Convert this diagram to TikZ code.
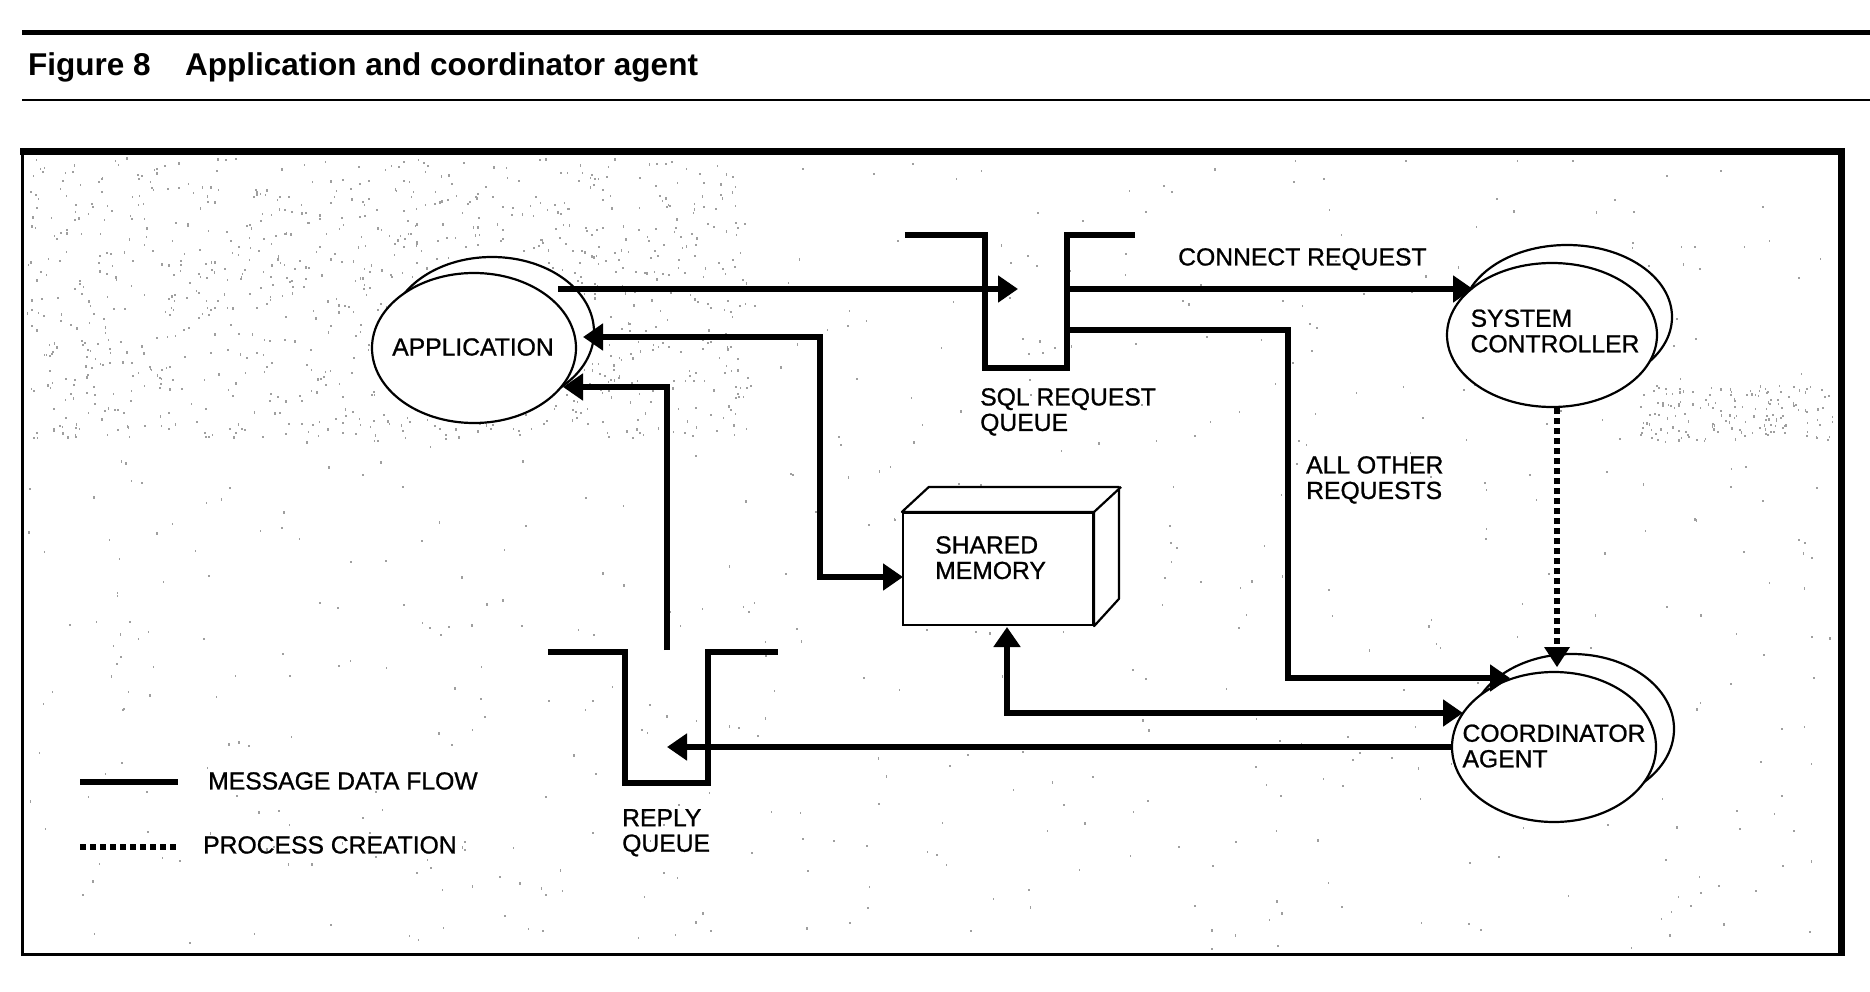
\documentclass[tikz,border=0pt]{standalone}
\usepackage{fontspec}
\setmainfont{Liberation Sans}
\newfontfamily\lblfont{Liberation Sans}[FakeBold=0.9]
\usetikzlibrary{arrows.meta,shapes.geometric}
\begin{document}
\begin{tikzpicture}[x=1pt,y=-1pt,
  lbl/.style={font=\lblfont\fontsize{24.7}{25.5}\selectfont, inner sep=0pt, align=left},
  ttl/.style={font=\fontsize{31.5}{31.5}\selectfont\bfseries, inner sep=0pt, anchor=base west},
  ell/.style={ellipse, draw, fill=white, line width=2.2pt, inner sep=0pt},
  flow/.style={line width=6pt, -{Triangle[length=20pt,width=26pt]}},
  flowboth/.style={line width=6pt, {Triangle[length=20pt,width=26pt]}-{Triangle[length=20pt,width=26pt]}},
  queue/.style={line width=6pt, line join=miter},
  proc/.style={line width=6pt, dash pattern=on 6pt off 4pt},
  stip/.style={fill=gray!75},
]
\useasboundingbox (0,0) rectangle (1870,992);
\fill[white] (0,0) rectangle (1870,992);

% title
\draw[line width=5pt] (22,33) -- (1870,33);
\node[ttl] (fig) at (28,76) {Figure 8};
\node[ttl] (cap) at (185,76) {Application and coordinator agent};
\draw[line width=2pt] (22,100) -- (1870,100);

% stipple texture
\pgfmathsetseed{42}
\foreach \i in {1,...,1000}{\pgfmathsetmacro{\px}{26+rnd*720}\pgfmathsetmacro{\py}{157+rnd*280}\fill[stip] (\px,\py) rectangle ++(1.6,2.2);}
\foreach \i in {1,...,650}{\pgfmathsetmacro{\px}{26+rnd*1805}\pgfmathsetmacro{\py}{157+rnd*792}\fill[stip] (\px,\py) rectangle ++(1.6,2.2);}
\foreach \i in {1,...,160}{\pgfmathsetmacro{\px}{1640+rnd*195}\pgfmathsetmacro{\py}{385+rnd*55}\fill[stip] (\px,\py) rectangle ++(1.6,2.2);}

% frame
\draw[line width=3pt] (22,152) rectangle (1841,954);
\draw[line width=7pt, line join=miter] (20,152) -- (1841,152) -- (1841,956);

% ellipses
\node[ell, minimum width=204pt, minimum height=150pt] (appb) at (492,332) {};
\node[ell, minimum width=204pt, minimum height=150pt] (app) at (474,348) {};
\node[lbl] (applbl) at (473,347) {APPLICATION};

\node[ell, minimum width=210pt, minimum height=144pt] (sysb) at (1567,317) {};
\node[ell, minimum width=210pt, minimum height=144pt] (sys) at (1552,335) {};
\node[lbl] (syslbl) at (1555,331) {SYSTEM\\CONTROLLER};

\node[ell, minimum width=204pt, minimum height=150pt] (coordb) at (1572,729) {};
\node[ell, minimum width=204pt, minimum height=150pt] (coord) at (1554,747) {};
\node[lbl] (coordlbl) at (1554,746) {COORDINATOR\\AGENT};

% shared memory box
\node[draw, fill=white, line width=2.2pt, minimum width=190pt, minimum height=112pt, inner sep=0pt] (mem) at (998,569) {};
\draw[line width=2.2pt, fill=white, line join=round] (mem.north west) -- ++(27,-25) -- ++(190,0) -- ++(0,112) -- (mem.south east) -- (mem.north east) -- cycle;
\draw[line width=2.2pt] (mem.north east) -- ++(27,-25);
\node[lbl, anchor=north west] (memlbl) at (935,536) {SHARED\\MEMORY};

% queues
\node[minimum width=82pt, minimum height=133pt, inner sep=0pt] (sql) at (1026,301.5) {};
\draw[queue] ([xshift=-80pt]sql.north west) -- (sql.north west) -- (sql.south west) -- (sql.south east) -- (sql.north east) -- ([xshift=68pt]sql.north east);
\node[lbl, anchor=north west] (sqllbl) at (980,388) {SQL REQUEST\\QUEUE};

\node[minimum width=83pt, minimum height=131pt, inner sep=0pt] (reply) at (666.5,717.5) {};
\draw[queue] ([xshift=-77pt]reply.north west) -- (reply.north west) -- (reply.south west) -- (reply.south east) -- (reply.north east) -- ([xshift=70pt]reply.north east);
\node[lbl, anchor=north west] (replylbl) at (622,809) {REPLY\\QUEUE};

% connector end points
\coordinate (appout) at (558,289);
\coordinate (sqlin) at (1018,289);
\coordinate (appin2) at (583,337);
\coordinate (memin) at (903,577);
\coordinate (replyup) at (667,650);
\coordinate (appin3) at (563,387);
\coordinate (sysin) at (1473,289);
\coordinate (sqlout2) at (1067,330);
\coordinate (coordin1) at (1510,678);
\coordinate (coordin0) at (1557,667);
\coordinate (membot) at (1007,627);
\coordinate (coordin2) at (1463,713);
\coordinate (replyin) at (667,746);

% connectors
\draw[flow] (appout) -- (sqlin);
\draw[flowboth] (appin2) -- (820,337) |- (memin);
\draw[flow] (replyup) |- (appin3);
\draw[flow] (sql.east |- sysin) -- (sysin);
\draw[flow] (sqlout2) -- (1288,330) |- (coordin1);
\draw[proc] (sys.south -| coordin0) -- ([yshift=18pt]coordin0);
\fill ([xshift=-13pt,yshift=20pt]coordin0) -- (coordin0) -- ([xshift=13pt,yshift=20pt]coordin0) -- cycle;
\draw[flowboth] (membot) |- (coordin2);
\draw[flow] (coord.west) -- (coord.west -| replyin);

\node[lbl, anchor=north west] (connlbl) at (1178,248) {CONNECT REQUEST};
\node[lbl, anchor=north west] (otherlbl) at (1306,456) {ALL OTHER\\REQUESTS};

% legend
\coordinate (lg1a) at (80,782);
\coordinate (lg1b) at (178,782);
\coordinate (lg2a) at (80,847);
\coordinate (lg2b) at (178,847);
\draw[line width=6pt] (lg1a) -- (lg1b);
\draw[proc] (lg2a) -- (lg2b);
\node[lbl, anchor=north west] (lg1lbl) at (208,772) {MESSAGE DATA FLOW};
\node[lbl, anchor=north west] (lg2lbl) at (203,836) {PROCESS CREATION};
\end{tikzpicture}
\end{document}
